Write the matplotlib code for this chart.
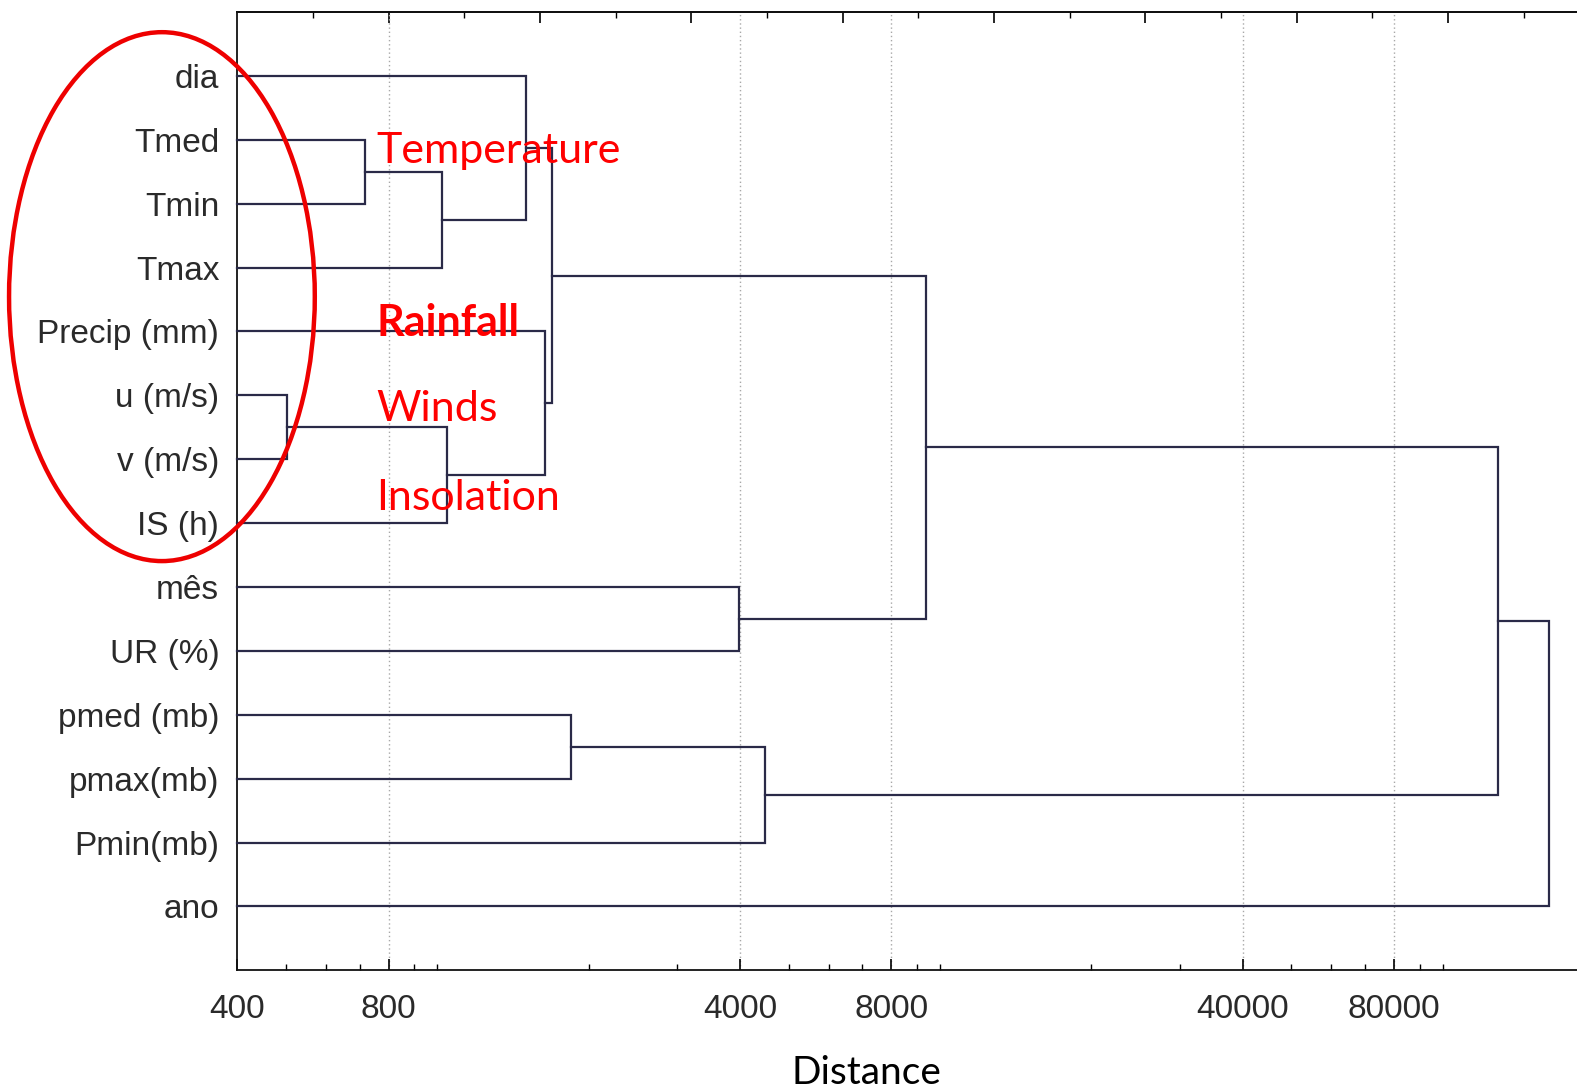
import numpy as np
import matplotlib
matplotlib.use("Agg")
import matplotlib.pyplot as plt
from matplotlib.patches import Ellipse
from matplotlib.ticker import FixedLocator, NullFormatter, LogLocator

# leaves, top to bottom
leaves = ["dia", "Tmed", "Tmin", "Tmax", "Precip (mm)", "u (m/s)", "v (m/s)",
          "IS (h)", "mês", "UR (%)", "pmed (mb)", "pmax(mb)", "Pmin(mb)", "ano"]

# merges: (child a, child b, linkage distance); new cluster ids continue after the leaves
merge_a = [1, 5, 14, 0, 15, 4, 17, 8, 20, 10, 23, 22, 25]
merge_b = [2, 6, 3, 16, 7, 18, 19, 9, 21, 11, 12, 24, 13]
merge_dist = [718, 501, 1023, 1502, 1046, 1639, 1692, 3983, 9390, 1845, 4485, 129000, 163000]

major_ticks = [400, 800, 4000, 8000, 40000, 80000]
group_labels = ["Temperature", "Rainfall", "Winds", "Insolation"]
group_y = [1.17, 3.86, 5.22, 6.6]

x_min, x_max = 400, 185000
line_col = "#2a2a48"
W, H = 1568, 1083  # layout measured on this grid

fig = plt.figure(figsize=(15.77, 10.89), dpi=100)
ax = fig.add_axes([236 / W, 1 - 965 / H, 1 - 236 / W, (965 - 12) / H])
ax.set_xscale("log")
ax.set_xlim(x_min, x_max)
ax.set_ylim(len(leaves), -1)

# node positions
pos_x = {i: x_min for i in range(len(leaves))}
pos_y = {i: float(i) for i in range(len(leaves))}
for k, (a, b, d) in enumerate(zip(merge_a, merge_b, merge_dist)):
    node = len(leaves) + k
    ax.plot([pos_x[a], d, d, pos_x[b]], [pos_y[a], pos_y[a], pos_y[b], pos_y[b]],
            color=line_col, lw=1.6, solid_joinstyle="miter", zorder=3, clip_on=False)
    pos_x[node] = d
    pos_y[node] = (pos_y[a] + pos_y[b]) / 2

# axes styling
for s in ["top", "left", "bottom"]:
    ax.spines[s].set_linewidth(1.3)
    ax.spines[s].set_color("#111111")
ax.spines["right"].set_visible(False)

ax.set_yticks(range(len(leaves)))
ax.set_yticklabels(leaves, family="Liberation Sans", fontsize=24, color="#2a2a2a")
ax.tick_params(axis="y", length=0, pad=13)

ax.xaxis.set_major_locator(FixedLocator(major_ticks))
ax.set_xticklabels([str(t) for t in major_ticks], family="Liberation Sans",
                   fontsize=24, color="#2a2a2a")
ax.xaxis.set_minor_locator(LogLocator(base=10, subs=np.arange(1, 10), numticks=20))
ax.xaxis.set_minor_formatter(NullFormatter())
ax.tick_params(axis="x", which="major", direction="in", length=8, width=1.2, pad=17, top=False)
ax.tick_params(axis="x", which="minor", direction="in", length=4, width=1.0, top=False)

for t in major_ticks[1:]:
    ax.axvline(t, color="#a8a8a8", lw=1, ls=(0, (1, 2)), zorder=1)

# top axis with its own ticks (steps of sqrt(2))
top = ax.secondary_xaxis("top")
top_major = [400 * 2 ** k for k in range(1, 9)]
top_minor = [400 * 2 ** (k + 0.5) for k in range(0, 9)]
top.xaxis.set_major_locator(FixedLocator(top_major))
top.xaxis.set_minor_locator(FixedLocator(top_minor))
top.xaxis.set_major_formatter(NullFormatter())
top.xaxis.set_minor_formatter(NullFormatter())
top.tick_params(which="major", direction="in", length=8, width=1.2)
top.tick_params(which="minor", direction="in", length=4, width=1.0)
top.spines["top"].set_linewidth(1.3)

fig.text(861 / W, 1 - 1067 / H, "Distance", family="Lato", fontsize=28,
         ha="center", va="center", color="black")

# red annotations
for lab, yy in zip(group_labels, group_y):
    ax.text(755, yy, lab, color="#ff0000", fontsize=31, family="Lato",
            fontweight="bold" if lab == "Rainfall" else "normal",
            ha="left", va="center", zorder=5)

ell = Ellipse((161 / W, 1 - 295 / H), 304 / W, 526 / H,
              transform=fig.transFigure, fill=False, edgecolor="#ee0000", lw=3.2, zorder=10)
fig.patches.append(ell)

fig.savefig("out.png", dpi=100, facecolor="white")
